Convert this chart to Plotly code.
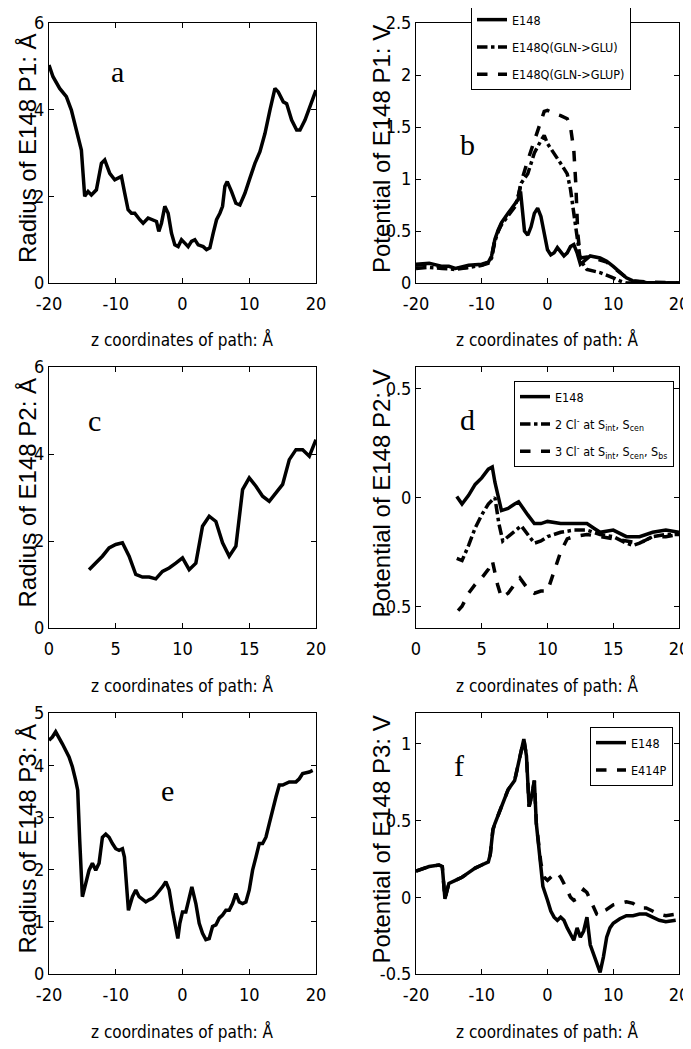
import plotly.graph_objects as go

W, H = 691, 1049
OFF = 8  # the page body adds an 8px margin around the figure

# ---------------- data ----------------
a_x = [-20, -19.4, -18.4, -17.4, -16.65, -15.9, -15.15, -14.9, -14.65, -14.15, -13.65, -12.9, -12.15, -11.65,
       -10.9, -10.15, -9.15, -8.65, -8.15, -7.65, -7.15, -6.4, -5.9, -5.15, -4.4, -3.9, -3.55, -3.15, -2.65,
       -2.15, -1.65, -1.15, -0.65, -0.15, 0.35, 0.85, 1.35, 1.85, 2.35, 3.1, 3.6, 4.1, 4.6, 5.1, 5.6, 6.0,
       6.35, 6.7, 7.35, 8.0, 8.6, 9.35, 10.1, 10.85, 11.6, 12.35, 13.1, 13.85, 14.35, 15.1, 15.6, 16.35,
       17.1, 17.6, 18.35, 19.1, 20.0]
a_y = [5.03, 4.76, 4.49, 4.30, 3.99, 3.53, 3.07, 2.53, 2.0, 2.11, 2.03, 2.15, 2.76, 2.84,
       2.53, 2.38, 2.46, 2.07, 1.69, 1.61, 1.61, 1.46, 1.38, 1.50, 1.46, 1.42, 1.19, 1.38, 1.77,
       1.61, 1.15, 0.88, 0.84, 1.0, 0.92, 0.84, 0.96, 1.0, 0.88, 0.84, 0.77, 0.81, 1.15, 1.46, 1.61, 1.77,
       2.23, 2.34, 2.11, 1.84, 1.80, 2.07, 2.42, 2.76, 3.03, 3.45, 3.99, 4.49, 4.41, 4.18, 4.14, 3.76,
       3.53, 3.53, 3.76, 4.07, 4.45]

b_e148_x = [-20, -18, -16, -15, -14, -12, -10, -9, -8.5, -8, -7.5, -7, -6, -5, -4.5, -4.1, -3.8, -3.5, -3,
            -2.5, -2, -1.5, -1, -0.5, 0, 0.5, 1, 1.5, 2, 2.5, 3, 3.5, 4, 4.5, 5, 5.5, 6.5, 8, 9, 10, 11,
            12, 13, 15, 20]
b_e148_y = [0.18, 0.19, 0.16, 0.16, 0.14, 0.17, 0.18, 0.2, 0.26, 0.42, 0.51, 0.58, 0.67, 0.75, 0.8, 0.88,
            0.67, 0.5, 0.46, 0.54, 0.67, 0.72, 0.64, 0.48, 0.32, 0.27, 0.29, 0.34, 0.3, 0.26, 0.29, 0.35,
            0.37, 0.29, 0.18, 0.21, 0.26, 0.24, 0.21, 0.16, 0.11, 0.05, 0.02, 0.005, 0.0]
b_glu_x = [-20, -18, -16, -14, -12, -10, -9, -8.5, -8, -7.5, -7, -6, -5, -4.5, -4, -3, -2, -1, -0.5, 0,
           1, 2, 3, 3.5, 4, 4.5, 5, 6, 8, 10, 11, 12, 15, 20]
b_glu_y = [0.14, 0.15, 0.14, 0.13, 0.15, 0.17, 0.19, 0.24, 0.4, 0.5, 0.56, 0.65, 0.73, 0.82, 0.96, 1.05,
           1.25, 1.37, 1.42, 1.34, 1.25, 1.15, 1.05, 0.9, 0.67, 0.42, 0.22, 0.13, 0.1, 0.05, 0.02, 0.0,
           0.0, 0.0]
b_glup_x = [-20, -18, -16, -14, -12, -10, -9, -8.5, -8, -7.5, -7, -6, -5, -4.5, -4, -3, -2, -1, -0.5, 0,
            1, 2, 3, 3.5, 4, 4.3, 4.6, 5, 6, 7, 8, 9, 10, 11, 12, 13, 15, 20]
b_glup_y = [0.17, 0.18, 0.15, 0.14, 0.15, 0.17, 0.2, 0.25, 0.42, 0.5, 0.57, 0.66, 0.74, 0.82, 0.97, 1.18,
            1.37, 1.57, 1.65, 1.66, 1.63, 1.61, 1.58, 1.50, 1.28, 0.96, 0.48, 0.24, 0.25, 0.24, 0.22,
            0.2, 0.15, 0.1, 0.05, 0.02, 0.01, 0.0]

c_x = [3, 3.5, 4, 4.5, 5, 5.5, 6, 6.5, 7, 7.5, 8, 8.5, 9, 9.5, 10, 10.5, 11, 11.5, 12, 12.5, 13, 13.5,
       14, 14.5, 15, 15.5, 16, 16.5, 17, 17.5, 18, 18.5, 19, 19.5, 20]
c_y = [1.34, 1.49, 1.65, 1.84, 1.92, 1.96, 1.65, 1.23, 1.17, 1.17, 1.13, 1.30, 1.38, 1.49, 1.61, 1.34,
       1.49, 2.34, 2.57, 2.45, 1.96, 1.65, 1.88, 3.18, 3.45, 3.26, 3.03, 2.91, 3.10, 3.30, 3.87, 4.10,
       4.10, 3.95, 4.33]

d_x = [3.1, 3.5, 4, 4.5, 5, 5.5, 5.8, 6, 6.5, 7, 7.5, 7.8, 8.5, 9, 9.5, 10, 11, 12, 13, 13.5, 14, 15,
       16, 17, 18, 19, 20]
d_e148_y = [0.005, -0.03, 0.01, 0.06, 0.09, 0.13, 0.14, 0.07, -0.06, -0.05, -0.03, -0.02, -0.08, -0.12,
            -0.12, -0.11, -0.12, -0.12, -0.12, -0.14, -0.16, -0.15, -0.18, -0.18, -0.16, -0.15, -0.16]
d_2cl_x = [3.1, 3.5, 4, 4.5, 5, 5.5, 6, 6.3, 6.6, 7, 7.5, 8, 8.5, 9, 9.5, 10, 11, 12, 13, 14, 15, 16,
           16.5, 17, 18, 19, 20]
d_2cl_y = [-0.28, -0.29, -0.22, -0.14, -0.08, -0.03, 0.0, -0.12, -0.2, -0.18, -0.15, -0.13, -0.17, -0.21,
           -0.2, -0.18, -0.16, -0.15, -0.15, -0.17, -0.18, -0.21, -0.22, -0.21, -0.18, -0.17, -0.17]
d_3cl_x = [3.2, 3.5, 4, 4.5, 5, 5.5, 5.8, 6.2, 6.5, 7, 7.5, 7.9, 8.5, 9, 9.5, 10, 10.5, 11, 11.5, 12,
           13, 14, 15, 16, 17, 18, 19, 20]
d_3cl_y = [-0.52, -0.50, -0.44, -0.40, -0.37, -0.33, -0.29, -0.40, -0.46, -0.44, -0.40, -0.37, -0.42,
           -0.44, -0.43, -0.43, -0.34, -0.25, -0.19, -0.18, -0.17, -0.18, -0.19, -0.20, -0.21, -0.18,
           -0.18, -0.17]

e_x = [-20, -19.5, -19, -18.5, -18, -17, -16.5, -16, -15.7, -15.4, -15.2, -15, -14.5, -14, -13.5, -13,
       -12.5, -12, -11.5, -11, -10.5, -10, -9.5, -9, -8.7, -8.4, -8.1, -7.5, -7, -6.5, -6, -5.5, -5,
       -4.5, -4, -3.5, -3, -2.5, -2, -1.5, -1, -0.7, -0.4, 0, 0.5, 1, 1.4, 2, 2.5, 3, 3.5, 4, 4.5, 5,
       5.5, 6, 6.5, 7, 7.5, 8, 8.5, 9, 9.5, 10, 10.5, 11, 11.5, 12, 12.5, 13, 13.5, 14, 14.5, 15, 16,
       17, 17.5, 18, 19, 19.5]
e_y = [4.48, 4.54, 4.64, 4.54, 4.41, 4.16, 3.97, 3.71, 3.52, 2.56, 1.86, 1.48, 1.73, 1.99, 2.12, 1.99,
       2.12, 2.62, 2.68, 2.62, 2.50, 2.40, 2.37, 2.40, 2.24, 1.61, 1.22, 1.48, 1.61, 1.48, 1.42, 1.38,
       1.42, 1.45, 1.51, 1.58, 1.67, 1.77, 1.61, 1.22, 0.91, 0.68, 0.97, 1.19, 1.19, 1.48, 1.67, 1.35,
       0.97, 0.78, 0.66, 0.68, 0.91, 0.94, 1.07, 1.13, 1.22, 1.22, 1.35, 1.54, 1.38, 1.35, 1.38, 1.61,
       1.99, 2.24, 2.50, 2.50, 2.62, 2.88, 3.17, 3.39, 3.62, 3.62, 3.68, 3.68, 3.74, 3.84, 3.87, 3.90]

f_e148_x = [-20, -18, -16.5, -16, -15.6, -15, -14, -13, -12, -11, -10, -9, -8.7, -8.3, -8, -7, -6, -5,
            -4.5, -4, -3.6, -3.2, -2.8, -2.4, -2, -1.7, -1.3, -1, -0.7, 0, 0.5, 1, 1.5, 2, 2.5, 3, 3.5,
            4, 4.5, 5, 5.5, 6, 6.5, 7, 7.5, 8, 8.5, 9, 9.5, 10, 11, 12, 13, 14, 15, 16, 17, 18, 19.5]
f_e148_y = [0.17, 0.2, 0.21, 0.2, -0.01, 0.09, 0.11, 0.13, 0.16, 0.19, 0.21, 0.23, 0.28, 0.44, 0.48,
            0.59, 0.70, 0.76, 0.85, 0.94, 1.03, 0.92, 0.59, 0.66, 0.76, 0.48, 0.31, 0.17, 0.07, -0.02,
            -0.09, -0.13, -0.15, -0.13, -0.15, -0.2, -0.24, -0.28, -0.2, -0.26, -0.22, -0.13, -0.31,
            -0.37, -0.44, -0.49, -0.39, -0.26, -0.2, -0.17, -0.14, -0.12, -0.12, -0.11, -0.11, -0.13,
            -0.15, -0.16, -0.15]
f_e414p_x = [-20, -18, -16.5, -16, -15.6, -15, -14, -13, -12, -11, -10, -9, -8.7, -8.3, -8, -7, -6, -5,
             -4.5, -4, -3.6, -3.2, -2.8, -2.4, -2, -1.7, -1.3, -1, -0.5, 0, 0.5, 1, 1.5, 2, 2.5, 3, 3.5,
             4, 4.5, 5, 5.5, 6, 6.5, 7, 7.5, 8, 8.5, 9, 10, 11, 12, 13, 14, 15, 16, 17, 18, 19.5]
f_e414p_y = [0.17, 0.2, 0.21, 0.2, -0.01, 0.09, 0.11, 0.13, 0.16, 0.19, 0.21, 0.23, 0.28, 0.44, 0.48,
             0.59, 0.70, 0.76, 0.85, 0.94, 1.03, 0.92, 0.59, 0.66, 0.76, 0.48, 0.31, 0.22, 0.13, 0.11,
             0.13, 0.15, 0.16, 0.13, 0.09, 0.04, 0.0, -0.02, -0.01, 0.02, 0.05, 0.03, -0.02, -0.07,
             -0.11, -0.12, -0.09, -0.08, -0.05, -0.04, -0.03, -0.04, -0.07, -0.07, -0.09, -0.11, -0.12,
             -0.11]

# tick labels
xt_wide = [-20, -10, 0, 10, 20]
xt_wide_txt = ["-20", "-10", "0", "10", "20"]
xt_half = [0, 5, 10, 15, 20]
xt_half_txt = ["0", "5", "10", "15", "20"]
yt_a = [0, 2, 4, 6]
yt_a_txt = ["0", "2", "4", "6"]
yt_b = [0, 0.5, 1, 1.5, 2, 2.5]
yt_b_txt = ["0", "0.5", "1", "1.5", "2", "2.5"]
yt_d = [-0.5, 0, 0.5]
yt_d_txt = ["-0.5", "0", "0.5"]
yt_e = [0, 1, 2, 3, 4, 5]
yt_e_txt = ["0", "1", "2", "3", "4", "5"]
yt_f = [-0.5, 0, 0.5, 1]
yt_f_txt = ["-0.5", "0", "0.5", "1"]

xtitle = "z coordinates of path: Å"
ytitles = ["Radius of E148 P1: Å", "Potential of E148 P1: V", "Radius of E148 P2: Å",
           "Potential of E148 P2: V", "Radius of E148 P3: Å", "Potential of E148 P3: V"]
letters = ["a", "b", "c", "d", "e", "f"]

# ---------------- layout geometry (screen pixels) ----------------
boxes = [(49, 316, 23, 283), (416, 679, 23, 283),
         (49, 316, 367, 628), (416, 679, 367, 628),
         (49, 316, 713, 974), (416, 679, 713, 974)]
xranges = [[-20, 20], [-20, 20], [0, 20], [0, 20], [-20, 20], [-20, 20]]
yranges = [[0, 6], [0, 2.5], [0, 6], [-0.6, 0.6], [0, 5], [-0.5, 1.2]]
xticks = [(xt_wide, xt_wide_txt), (xt_wide, xt_wide_txt), (xt_half, xt_half_txt),
          (xt_half, xt_half_txt), (xt_wide, xt_wide_txt), (xt_wide, xt_wide_txt)]
yticks = [(yt_a, yt_a_txt), (yt_b, yt_b_txt), (yt_a, yt_a_txt),
          (yt_d, yt_d_txt), (yt_e, yt_e_txt), (yt_f, yt_f_txt)]
letter_pos = [(-9.7, 4.87), (-12.2, 1.33), (3.4, 4.78), (3.9, 0.36), (-2.2, 3.52), (-13.4, 0.86)]


def px(x):
    return (x - OFF) / W


def py(y):
    return 1 - (y - OFF) / H


NARROW = "DejaVu Sans Condensed, Liberation Sans Narrow, sans-serif"
SANS = "Liberation Sans, Arial, sans-serif"
SERIF = "Liberation Serif, Times New Roman, serif"

fig = go.Figure()
LW = 3.5

def tr(x, y, ax, dash="solid", name=None, legend=None, group=None):
    fig.add_trace(go.Scatter(
        x=x, y=y, mode="lines", xaxis="x" + ax, yaxis="y" + ax,
        line=dict(color="black", width=LW, dash=dash),
        name=name, showlegend=legend is not None, legend=legend or "legend",
        legendgroup=group))

tr(a_x, a_y, "")
tr(b_e148_x, b_e148_y, "2", "solid", "E148", "legend", "b1")
tr(b_glu_x, b_glu_y, "2", "dashdot", "E148Q(GLN->GLU)", "legend", "b2")
tr(b_glup_x, b_glup_y, "2", "dash", "E148Q(GLN->GLUP)", "legend", "b3")
tr(c_x, c_y, "3")
tr(d_x, d_e148_y, "4", "solid", "E148", "legend2", "d1")
tr(d_2cl_x, d_2cl_y, "4", "dashdot", "2 Cl<sup>-</sup> at S<sub>int</sub>, S<sub>cen</sub>", "legend2", "d2")
tr(d_3cl_x, d_3cl_y, "4", "dash",
   "3 Cl<sup>-</sup> at S<sub>int</sub>, S<sub>cen</sub>, S<sub>bs</sub>", "legend2", "d3")
tr(e_x, e_y, "5")
tr(f_e148_x, f_e148_y, "6", "solid", "E148", "legend3", "f1")
tr(f_e414p_x, f_e414p_y, "6", "dash", "E414P", "legend3", "f2")

layout = dict(width=W, height=H, margin=dict(l=0, r=0, t=0, b=0, autoexpand=False),
              paper_bgcolor="white", plot_bgcolor="white", showlegend=True)
annotations = []
for i, (x0, x1, y0, y1) in enumerate(boxes):
    sfx = "" if i == 0 else str(i + 1)
    common = dict(showline=True, linecolor="black", linewidth=1, mirror="ticks",
                  ticks="inside", ticklen=5, tickcolor="black", showgrid=False, zeroline=False,
                  automargin=False, ticklabeloverflow="allow",
                  tickfont=dict(family=NARROW, size=18, color="black"))
    layout["xaxis" + sfx] = dict(domain=[px(x0), px(x1)], range=xranges[i],
                                 anchor="y" + sfx, tickmode="array", ticklabelstandoff=4,
                                 tickvals=xticks[i][0], ticktext=xticks[i][1], **common)
    layout["yaxis" + sfx] = dict(domain=[py(y1), py(y0)], range=yranges[i],
                                 anchor="x" + sfx, tickmode="array",
                                 tickvals=yticks[i][0], ticktext=yticks[i][1], **common)
    # x title
    annotations.append(dict(text=xtitle, xref="paper", yref="paper",
                            x=px((x0 + x1) / 2), y=py(y1 + 57),
                            xanchor="center", yanchor="middle", showarrow=False,
                            font=dict(family=NARROW, size=17, color="black")))
    # y title
    annotations.append(dict(text=ytitles[i], xref="paper", yref="paper",
                            x=px(x0 - 22 if i % 2 == 0 else x0 - 35), y=py((y0 + y1) / 2 - 4),
                            xanchor="center", yanchor="middle", textangle=-90, showarrow=False,
                            font=dict(family=SANS, size=24, color="black")))
    # panel letter
    annotations.append(dict(text=letters[i], xref="x" + sfx, yref="y" + sfx,
                            x=letter_pos[i][0], y=letter_pos[i][1], showarrow=False,
                            xanchor="center", yanchor="middle",
                            font=dict(family=SERIF, size=30, color="black")))
layout["annotations"] = annotations

leg_common = dict(bgcolor="white", bordercolor="black", borderwidth=1, itemwidth=30,
                  xanchor="left", yanchor="top", tracegroupgap=8,
                  font=dict(family=NARROW, size=12.5, color="black"))
layout["legend"] = dict(x=px(471), y=py(4), **leg_common)
layout["legend2"] = dict(x=px(514), y=py(381), **leg_common)
layout["legend3"] = dict(x=px(590), y=py(727), **leg_common)

fig.update_layout(**layout)
fig.write_html("out.html")
